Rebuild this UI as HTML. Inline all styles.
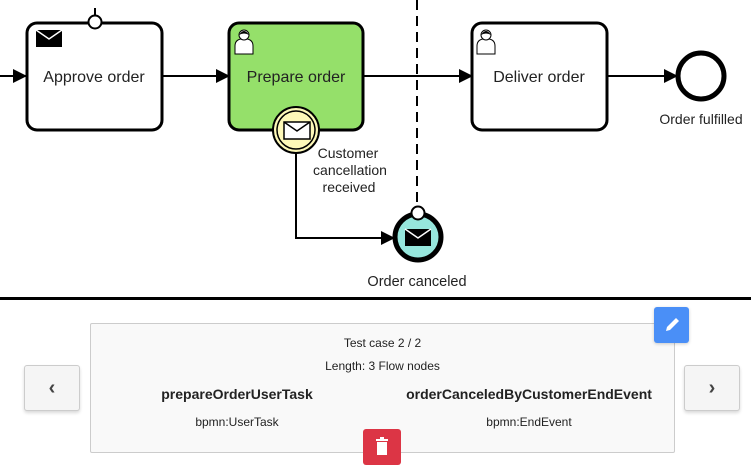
<!DOCTYPE html>
<html><head><style>
body{margin:0;width:751px;height:472px;overflow:hidden;background:#fff;font-family:"Liberation Sans",sans-serif;position:relative}
.btn{position:absolute;border:1px solid #ccc;background:#f5f5f5;border-radius:3px;box-shadow:0 2px 3px rgba(0,0,0,.15)}
</style></head><body>
<svg width="751" height="300" style="position:absolute;left:0;top:0" font-family="Liberation Sans, sans-serif">
<defs><marker id="a" markerWidth="14" markerHeight="14" refX="13" refY="7" orient="auto" markerUnits="userSpaceOnUse"><path d="M0,0 L14,7 L0,14z" fill="#000"/></marker></defs>
<line x1="417" y1="0" x2="417" y2="207" stroke="#000" stroke-width="2" stroke-dasharray="10,6"/>
<line x1="0" y1="76" x2="26" y2="76" stroke="#000" stroke-width="2" marker-end="url(#a)"/>
<line x1="162" y1="76" x2="229" y2="76" stroke="#000" stroke-width="2" marker-end="url(#a)"/>
<line x1="363" y1="76" x2="472" y2="76" stroke="#000" stroke-width="2" marker-end="url(#a)"/>
<line x1="607" y1="76" x2="677" y2="76" stroke="#000" stroke-width="2" marker-end="url(#a)"/>
<polyline points="296,152 296,238 394,238" fill="none" stroke="#000" stroke-width="2" marker-end="url(#a)"/>
<line x1="95" y1="8" x2="95" y2="16" stroke="#000" stroke-width="2"/>
<rect x="27" y="23" width="135" height="107" rx="10" fill="#fff" stroke="#000" stroke-width="3"/>
<circle cx="95" cy="22" r="6.5" fill="#fff" stroke="#000" stroke-width="2"/>
<rect x="36" y="30" width="26" height="17" fill="#000"/><polyline points="36,30 49,39 62,30" fill="none" stroke="#fff" stroke-width="1.5"/>
<text x="94" y="82" text-anchor="middle" font-size="16" fill="#222">Approve order</text>
<rect x="229" y="23" width="134" height="107" rx="10" fill="#95e06a" stroke="#000" stroke-width="3"/>
<g stroke="#000" fill="#fff" stroke-width="1"><path d="M235,54 v-8 q0,-6 6,-7 h6 q6,1 6,7 v8z"/><circle cx="244" cy="35" r="5"/></g>
<path d="M239,35 q5,-8 10,0 q-5,-3 -10,0z" fill="#000"/>
<text x="296" y="82" text-anchor="middle" font-size="16" fill="#222">Prepare order</text>
<circle cx="296" cy="130" r="23" fill="#fdf8b8" stroke="#000" stroke-width="2"/>
<circle cx="296" cy="130" r="19" fill="none" stroke="#000" stroke-width="1.5"/>
<rect x="284" y="122" width="26" height="17" fill="#fff" stroke="#000" stroke-width="1.5"/><polyline points="284,122 297,131 310,122" fill="none" stroke="#000" stroke-width="1.5"/>
<g font-size="14" fill="#222" text-anchor="middle"><text x="348" y="158">Customer</text><text x="350" y="175">cancellation</text><text x="349" y="192">received</text></g>
<rect x="472" y="23" width="135" height="107" rx="10" fill="#fff" stroke="#000" stroke-width="3"/>
<g stroke="#000" fill="#fff" stroke-width="1"><path d="M477,54 v-8 q0,-6 6,-7 h6 q6,1 6,7 v8z"/><circle cx="486" cy="35" r="5"/></g>
<path d="M481,35 q5,-8 10,0 q-5,-3 -10,0z" fill="#000"/>
<text x="539" y="82" text-anchor="middle" font-size="16" fill="#222">Deliver order</text>
<circle cx="701" cy="76" r="23" fill="#fff" stroke="#000" stroke-width="5"/>
<text x="701" y="124" text-anchor="middle" font-size="14" fill="#222">Order fulfilled</text>
<circle cx="418" cy="237" r="23" fill="#96e6dc" stroke="#000" stroke-width="5"/>
<rect x="405" y="229" width="26" height="17" fill="#000"/><polyline points="405,229 418,238 431,229" fill="none" stroke="#fff" stroke-width="1.5"/>
<circle cx="418" cy="213" r="6.5" fill="#fff" stroke="#000" stroke-width="2"/>
<text x="417" y="286" text-anchor="middle" font-size="14.5" fill="#222">Order canceled</text>
<rect x="0" y="297" width="751" height="3" fill="#000"/>
</svg>
<div style="position:absolute;left:90px;top:323px;width:583px;height:128px;background:#f9f9f9;border:1px solid #ccc;border-radius:2px;font-size:12px;color:#222">
<div style="position:absolute;top:12px;width:100%;text-align:center">Test case 2 / 2</div>
<div style="position:absolute;top:35px;width:100%;text-align:center">Length: 3 Flow nodes</div>
<div style="position:absolute;top:62px;left:0;width:292px;text-align:center;font-weight:bold;font-size:14px">prepareOrderUserTask</div>
<div style="position:absolute;top:62px;left:292px;width:292px;text-align:center;font-weight:bold;font-size:14px">orderCanceledByCustomerEndEvent</div>
<div style="position:absolute;top:91px;left:0;width:292px;text-align:center">bpmn:UserTask</div>
<div style="position:absolute;top:91px;left:292px;width:292px;text-align:center">bpmn:EndEvent</div>
</div>
<div class="btn" style="left:24px;top:365px;width:54px;height:44px;text-align:center;line-height:44px;font-size:20px;font-weight:bold;color:#444">‹</div>
<div class="btn" style="left:684px;top:365px;width:54px;height:44px;text-align:center;line-height:44px;font-size:20px;font-weight:bold;color:#444">›</div>
<div style="position:absolute;left:654px;top:307px;width:35px;height:36px;background:#4a8ff7;border-radius:3px;box-shadow:0 1px 3px rgba(0,0,0,.2)">
<svg width="35" height="36"><path d="M12,24 l1,-4 l9,-9 l3,3 l-9,9z" fill="#fff"/></svg></div>
<div style="position:absolute;left:363px;top:429px;width:38px;height:36px;background:#dc3545;border-radius:3px">
<svg width="38" height="36"><rect x="13" y="10" width="12" height="2" fill="#fff"/><rect x="17" y="8" width="4" height="2" fill="#fff"/><rect x="14" y="13" width="10" height="13" fill="#fff"/></svg></div>
</body></html>
